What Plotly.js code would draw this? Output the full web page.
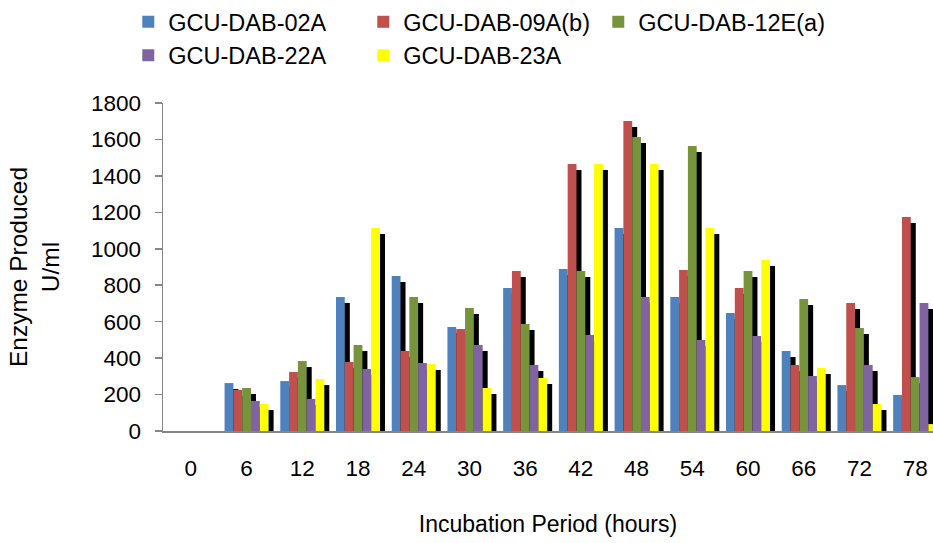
<!DOCTYPE html>
<html>
<head>
<meta charset="utf-8">
<script src="https://cdn.plot.ly/plotly-3.0.1.min.js"></script>
<style>html,body{margin:0;padding:0;background:#fff;}#chart{width:933px;height:543px;}</style>
</head>
<body>
<div id="chart"></div>
<script>
// Categories (incubation period, hours)
const hours = ['0','6','12','18','24','30','36','42','48','54','60','66','72','78'];
// Series names
const seriesNames = ['GCU-DAB-02A','GCU-DAB-09A(b)','GCU-DAB-12E(a)','GCU-DAB-22A','GCU-DAB-23A'];
// Enzyme produced (U/ml)
const dab02A  = [0,263,274,735,851,571,785,889,1114,735,648,439,252,198];
const dab09Ab = [0,225,324,379,439,560,878,1465,1701,884,785,362,702,1174];
const dab12Ea = [0,236,384,472,735,675,587,878,1613,1564,878,724,565,296];
const dab22A  = [0,165,176,340,373,472,362,527,735,499,521,302,362,702];
const dab23A  = [0,148,285,1114,368,236,291,1465,1465,1114,938,346,148,38];

const seriesValues = [dab02A, dab09Ab, dab12Ea, dab22A, dab23A];
const colors = ['#4F81BD','#C0504D','#77933C','#8064A2','#FFFF00'];

const FONT = 'Liberation Sans, Arial, sans-serif';
const barW = 0.158;
const shadowDx = 0.09;
const shadowDy = 33;

const traces = [];
seriesValues.forEach((vals, i) => {
  const off = (i - 2.5) * barW;
  traces.push({
    type: 'bar', x: hours, y: vals, base: -shadowDy,
    offset: off + shadowDx, width: barW,
    marker: {color: '#000000', line: {width: 0}},
    showlegend: false, hoverinfo: 'skip'
  });
  traces.push({
    type: 'bar', name: seriesNames[i], x: hours, y: vals,
    offset: off, width: barW,
    marker: {color: colors[i], line: {width: 0}}
  });
});

const layout = {
  width: 933, height: 543,
  paper_bgcolor: '#ffffff', plot_bgcolor: '#ffffff',
  barmode: 'overlay',
  margin: {l: 163, r: 0, t: 103, b: 112, pad: 0},
  font: {family: FONT, color: '#000000', size: 22},
  showlegend: true,
  legend: {
    orientation: 'h', xref: 'container', yref: 'container',
    x: 0.1375, xanchor: 'left', y: 1.0, yanchor: 'top',
    font: {family: FONT, size: 23.5, color: '#000000'},
    entrywidth: 190, entrywidthmode: 'pixels',
    traceorder: 'normal', bgcolor: 'rgba(0,0,0,0)'
  },
  xaxis: {
    type: 'category', range: [-0.5, 13.32], fixedrange: true,
    showline: true, linecolor: '#868686', linewidth: 1.5,
    ticks: '', showgrid: false, zeroline: false,
    ticklabelstandoff: 16,
    tickfont: {family: FONT, size: 22.5, color: '#000000'},
    title: {text: 'Incubation Period (hours)', font: {family: FONT, size: 23, color: '#000000'}, standoff: 36}
  },
  yaxis: {
    range: [0, 1800], dtick: 200, tick0: 0, fixedrange: true,
    showline: true, linecolor: '#868686', linewidth: 1.5,
    ticks: 'outside', ticklen: 7, tickcolor: '#868686', tickwidth: 1.5,
    showgrid: false, zeroline: false,
    ticklabelstandoff: 9,
    tickfont: {family: FONT, size: 22.5, color: '#000000'},
    title: {text: 'Enzyme Produced<br>U/ml', font: {family: FONT, size: 24.5, color: '#000000'}, standoff: 24}
  }
};

Plotly.newPlot('chart', traces, layout, {displayModeBar: false, staticPlot: true});
</script>
</body>
</html>
